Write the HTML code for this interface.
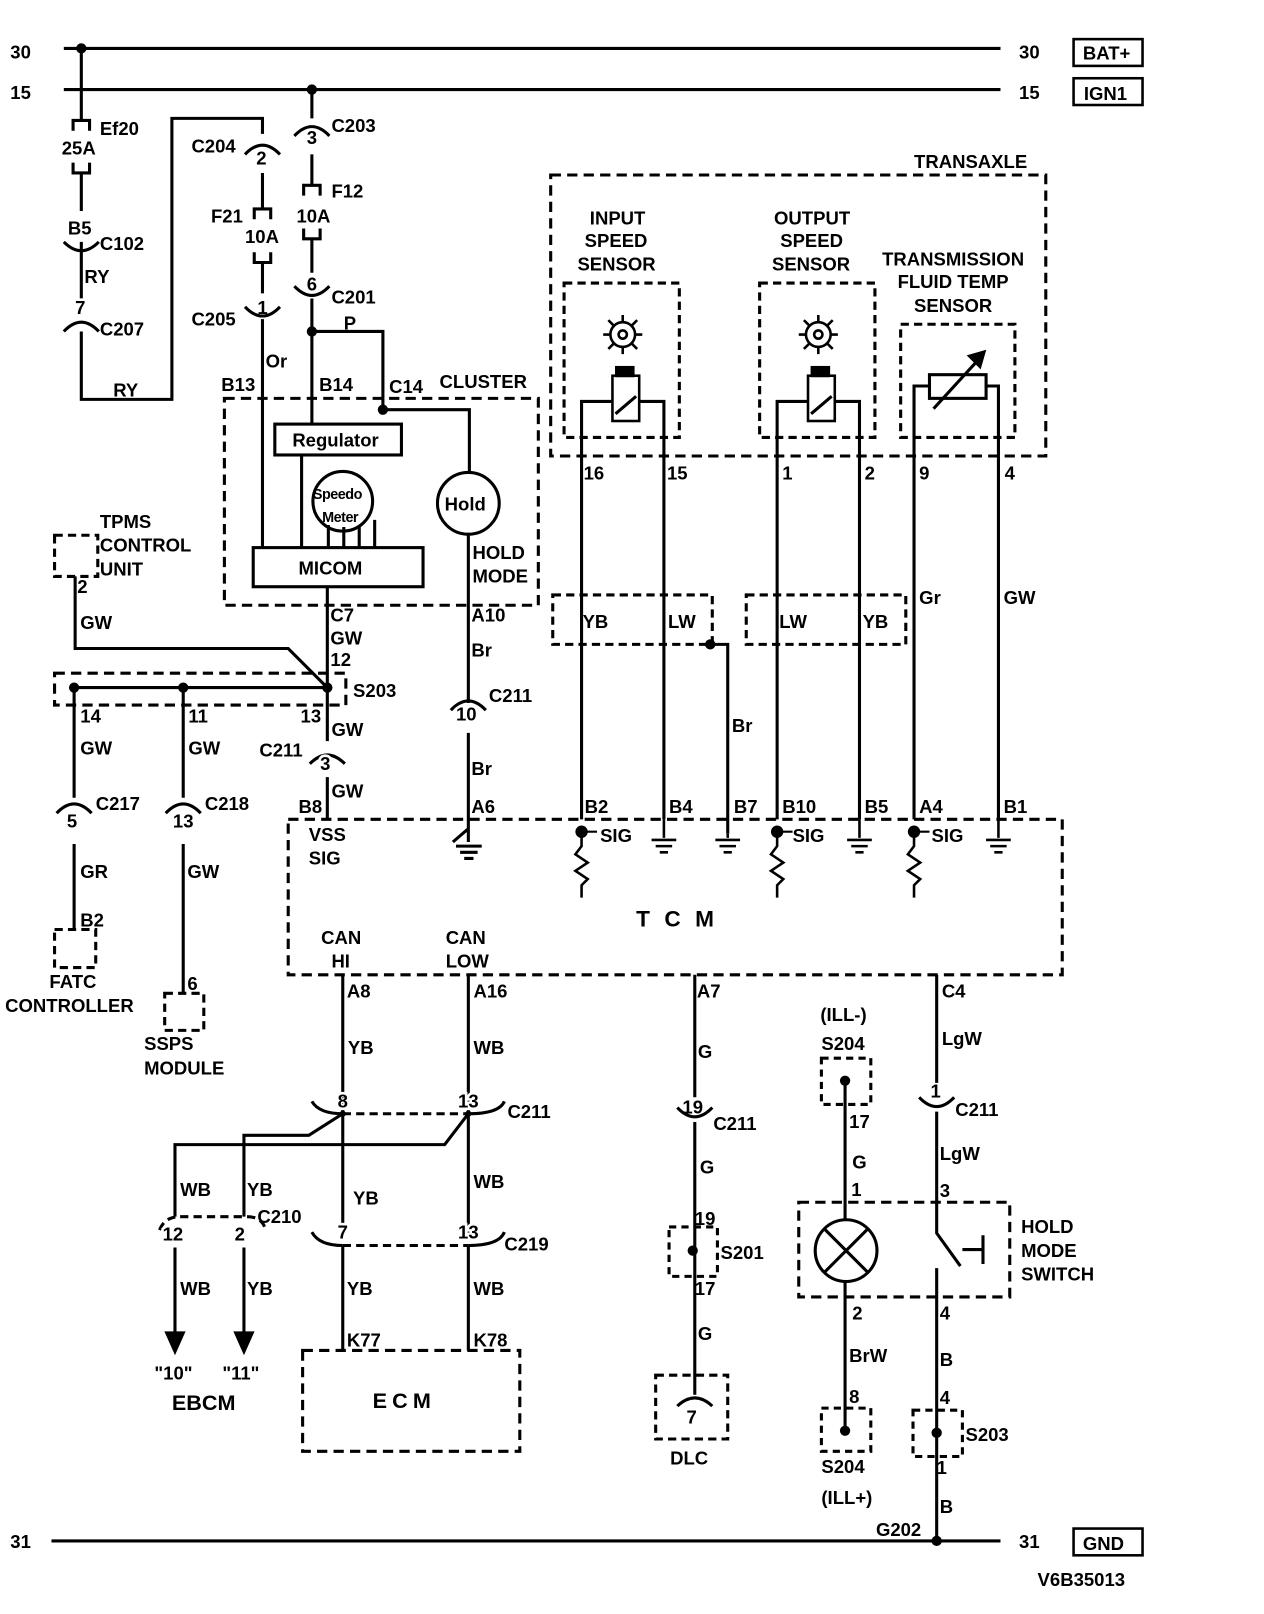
<!DOCTYPE html>
<html><head><meta charset="utf-8"><style>
html,body{margin:0;padding:0;background:#fff;}
svg{display:block;}
text{font-family:"Liberation Sans",sans-serif;font-weight:bold;font-size:18px;fill:#000;letter-spacing:0px;}
text.k{stroke:#fff;stroke-width:5px;paint-order:stroke;}
</style></head><body>
<svg width="1264" height="1614" viewBox="0 0 1228 1568" xmlns="http://www.w3.org/2000/svg">
<g fill="none" stroke="#000" stroke-width="3">
<path d="M62 47H972M62 87H972M50 1497H972"/>
<rect x="1043" y="38" width="67" height="26" stroke-width="2.5"/>
<rect x="1043" y="76" width="67" height="26" stroke-width="2.5"/>
<rect x="1043" y="1485" width="67" height="26" stroke-width="2.5"/>
<path d="M79 47V117M71 127V117H87V127M71 158V168H87V158M79 168V205M79 235V292M79 322V388H167V115H255V130"/>
<path d="M62 235Q79 252 96 235M62 322Q79 304 96 322"/>
<path d="M238 150Q255 132 272 150M255 168V203M247 213V203H263V213M247 245V255H263V245M255 255V285M238 298Q255 316 272 298M255 310V532"/>
<path d="M303 87V115M286 132Q303 114 320 132M303 150V180M295 190V180H311V190M295 222V232H311V222M303 232V265M286 278Q303 296 320 278M303 290V412"/>
<path d="M303 322H372V398H456V460"/>
<rect x="218" y="387" width="305" height="201" stroke-dasharray="10,6"/>
<rect x="267" y="412" width="123" height="30"/>
<rect x="246" y="532" width="165" height="38"/>
<circle cx="333" cy="487" r="29"/>
<circle cx="455" cy="489" r="30"/>
<path d="M293 442V532M319 510V532M334 512V532M349 510V532M364 505V532M455 519V683"/>
<rect x="53" y="520" width="42" height="40" stroke-dasharray="8,5"/>
<path d="M73 560V630H280L318 668"/>
<path d="M318 570V720"/>
<rect x="53" y="654" width="283" height="31" stroke-dasharray="10,6"/>
<path d="M72 668H318M72 668V775M178 668V775M301 742Q318 725 335 742M318 755V796"/>
<path d="M55 790Q72 772 89 790M72 820V903M161 790Q178 772 195 790M178 820V965"/>
<rect x="53" y="903" width="40" height="37" stroke-dasharray="8,5"/>
<rect x="160" y="965" width="38" height="36" stroke-dasharray="8,5"/>
<path d="M438 690Q455 672 472 690M455 712V805L440 818M455 805V818M443 822H468M447 828H464M451 834H460"/>
<rect x="535" y="170" width="481" height="273" stroke-dasharray="10,6"/>
<rect x="548" y="275" width="112" height="150" stroke-dasharray="8,5"/>
<rect x="738" y="275" width="112" height="150" stroke-dasharray="8,5"/>
<rect x="875" y="315" width="111" height="110" stroke-dasharray="8,5"/>
<rect x="595" y="365" width="26" height="44" stroke-width="2.5"/>
<rect x="785" y="365" width="26" height="44" stroke-width="2.5"/>
<path d="M598 402L618 385M788 402L808 385"/>
<path d="M565 796V390H595M621 390H645V796M755 796V390H785M811 390H835V796M888 796V375H903M958 375H970V796"/>
<rect x="903" y="364" width="55" height="23"/>
<path d="M907 397L950 350"/>
<path d="M942 346L956 342L952 356Z" fill="#000"/>
<rect x="537" y="578" width="155" height="48" stroke-dasharray="8,5"/>
<rect x="725" y="578" width="155" height="48" stroke-dasharray="8,5"/>
<path d="M690 626H707V810"/>
<g stroke-width="2.5">
<circle cx="605" cy="325" r="12"/><circle cx="605" cy="325" r="4"/>
<circle cx="795" cy="325" r="12"/><circle cx="795" cy="325" r="4"/>
<path d="M605 306V313M605 337V344M586 325H593M617 325H624M591 311L597 317M613 333L619 339M591 339L597 333M613 317L619 311"/>
<path d="M795 306V313M795 337V344M776 325H783M807 325H814M781 311L787 317M803 333L809 339M781 339L787 333M803 317L809 311"/>
</g>
<rect x="599" y="357" width="16" height="8" fill="#000"/>
<rect x="789" y="357" width="16" height="8" fill="#000"/>
<rect x="280" y="796" width="752" height="151" stroke-dasharray="10,6"/>
<path d="M565 808V822L559 830L571 838L559 846L571 854L565 860V872M755 808V822L749 830L761 838L749 846L761 854L755 860V872M888 808V822L882 830L894 838L882 846L894 854L888 860V872" stroke-width="2.5"/>
<path d="M565 808H580M755 808H770M888 808H903" stroke-width="2"/>
<path d="M645 796V814M633 816H657M637 822H653M641 828H649M707 810V814M695 816H719M699 822H715M703 828H711M835 796V814M823 816H847M827 822H843M831 828H839M970 796V814M958 816H982M962 822H978M966 828H974" stroke-width="2.5"/>
<path d="M333 947V1200M455 947V1200"/>
<path d="M303 1070Q310 1082 333 1082M455 1082Q485 1082 490 1070"/>
<path d="M333 1082H455" stroke-dasharray="8,5"/>
<path d="M333 1082L300 1103H237V1182M455 1082L432 1112H170V1182"/>
<path d="M155 1195Q160 1182 175 1182M175 1182H240Q255 1182 258 1195" stroke-dasharray="8,5"/>
<path d="M170 1212V1295M237 1212V1295"/>
<path d="M162 1295H178L170 1313ZM229 1295H245L237 1313Z" fill="#000"/>
<path d="M303 1197Q310 1210 333 1210M455 1210Q485 1210 490 1197"/>
<path d="M333 1210H455" stroke-dasharray="8,5"/>
<path d="M333 1210V1312M455 1210V1312"/>
<rect x="294" y="1312" width="211" height="98" stroke-dasharray="10,6"/>
<path d="M675 947V1066M658 1076Q675 1094 692 1076M675 1090V1355"/>
<rect x="650" y="1192" width="47" height="48" stroke-dasharray="7,5"/>
<rect x="637" y="1336" width="70" height="62" stroke-dasharray="8,5"/>
<path d="M658 1366Q675 1350 692 1366"/>
<rect x="798" y="1028" width="48" height="45" stroke-dasharray="7,5"/>
<rect x="798" y="1368" width="48" height="42" stroke-dasharray="7,5"/>
<path d="M821 1050V1185M821 1245V1390"/>
<circle cx="822" cy="1215" r="30"/>
<path d="M801 1194L843 1236M843 1194L801 1236"/>
<rect x="776" y="1168" width="205" height="92" stroke-dasharray="10,6"/>
<path d="M910 947V1052M893 1066Q910 1084 927 1066M910 1080V1198L933 1230M935 1214H955M955 1200V1228M910 1232V1497"/>
<rect x="887" y="1370" width="48" height="45" stroke-dasharray="7,5"/>
</g>
<g fill="#000">
<circle cx="79" cy="47" r="5"/><circle cx="303" cy="87" r="5"/><circle cx="303" cy="322" r="5"/><circle cx="372" cy="398" r="5"/>
<circle cx="72" cy="668" r="5"/><circle cx="178" cy="668" r="5"/><circle cx="318" cy="668" r="5"/>
<circle cx="690" cy="626" r="5"/><circle cx="565" cy="808" r="6"/><circle cx="755" cy="808" r="6"/><circle cx="888" cy="808" r="6"/>
<circle cx="673" cy="1215" r="5"/><circle cx="821" cy="1050" r="5"/><circle cx="821" cy="1390" r="5"/><circle cx="910" cy="1392" r="5"/><circle cx="910" cy="1497" r="5"/>
<circle cx="333" cy="1082" r="3"/><circle cx="455" cy="1082" r="3"/>
</g>
<text x="10" y="57">30</text><text x="10" y="96">15</text><text x="990" y="57">30</text><text x="990" y="96">15</text>
<text x="1052" y="58">BAT+</text><text x="1053" y="97">IGN1</text><text x="1052" y="1506">GND</text>
<text x="97" y="131">Ef20</text><text class="k" x="60" y="150">25A</text><text class="k" x="66" y="228">B5</text><text x="97" y="243">C102</text>
<text x="82" y="275">RY</text><text class="k" x="73" y="305">7</text><text x="97" y="326">C207</text><text x="110" y="385">RY</text>
<text x="186" y="148">C204</text><text class="k" x="249" y="160">2</text><text x="205" y="216">F21</text><text class="k" x="238" y="236">10A</text>
<text x="186" y="316">C205</text><text x="250" y="305">1</text><text x="258" y="357">Or</text><text x="215" y="380">B13</text>
<text x="322" y="128">C203</text><text class="k" x="298" y="140">3</text><text x="322" y="192">F12</text><text class="k" x="288" y="216">10A</text>
<text class="k" x="298" y="282">6</text><text x="322" y="295">C201</text><text x="334" y="320">P</text><text x="310" y="380">B14</text>
<text x="378" y="382">C14</text><text x="427" y="377">CLUSTER</text>
<text x="284" y="434">Regulator</text><text x="304" y="485" style="font-size:14px;letter-spacing:-0.5px">Speedo</text><text x="313" y="507" style="font-size:14px;letter-spacing:-0.5px">Meter</text>
<text x="432" y="496">Hold</text><text x="459" y="543">HOLD</text><text x="459" y="566">MODE</text><text x="290" y="558">MICOM</text>
<text x="97" y="513">TPMS</text><text x="97" y="536">CONTROL</text><text x="97" y="559">UNIT</text><text x="75" y="576">2</text><text x="78" y="611">GW</text>
<text x="321" y="604">C7</text><text x="321" y="626">GW</text><text x="321" y="647">12</text><text x="343" y="677">S203</text>
<text x="78" y="702">14</text><text x="183" y="702">11</text><text x="292" y="702">13</text><text x="322" y="715">GW</text>
<text x="78" y="733">GW</text><text x="183" y="733">GW</text><text x="252" y="735">C211</text><text class="k" x="311" y="748">3</text>
<text x="322" y="775">GW</text><text x="290" y="790">B8</text><text x="300" y="817">VSS</text><text x="300" y="840">SIG</text>
<text x="458" y="604">A10</text><text x="458" y="638">Br</text><text x="475" y="682">C211</text><text class="k" x="443" y="700">10</text>
<text x="458" y="753">Br</text><text x="458" y="790">A6</text>
<text x="93" y="787">C217</text><text class="k" x="65" y="804">5</text><text x="199" y="787">C218</text><text class="k" x="168" y="804">13</text>
<text x="78" y="853">GR</text><text x="182" y="853">GW</text><text x="78" y="900">B2</text><text x="48" y="960">FATC</text>
<text x="5" y="983">CONTROLLER</text><text x="182" y="962">6</text><text x="140" y="1020">SSPS</text><text x="140" y="1044">MODULE</text>
<text x="888" y="163">TRANSAXLE</text>
<text x="573" y="218">INPUT</text><text x="568" y="240">SPEED</text><text x="561" y="263">SENSOR</text>
<text x="752" y="218">OUTPUT</text><text x="758" y="240">SPEED</text><text x="750" y="263">SENSOR</text>
<text x="857" y="258">TRANSMISSION</text><text x="872" y="280">FLUID TEMP</text><text x="888" y="303">SENSOR</text>
<text x="567" y="466">16</text><text x="648" y="466">15</text><text x="760" y="466">1</text><text x="840" y="466">2</text><text x="893" y="466">9</text><text x="976" y="466">4</text>
<text x="566" y="610">YB</text><text x="649" y="610">LW</text><text x="757" y="610">LW</text><text x="838" y="610">YB</text>
<text x="893" y="587">Gr</text><text x="975" y="587">GW</text><text x="711" y="711">Br</text>
<text x="568" y="790">B2</text><text x="650" y="790">B4</text><text x="713" y="790">B7</text><text x="760" y="790">B10</text>
<text x="840" y="790">B5</text><text x="893" y="790">A4</text><text x="975" y="790">B1</text>
<text x="583" y="818">SIG</text><text x="770" y="818">SIG</text><text x="905" y="818">SIG</text>
<text x="618" y="900" style="font-size:22px;letter-spacing:14px">TCM</text>
<text x="312" y="917">CAN</text><text x="322" y="940">HI</text><text x="433" y="917">CAN</text><text x="433" y="940">LOW</text>
<text x="337" y="969">A8</text><text x="460" y="969">A16</text><text x="338" y="1024">YB</text><text x="460" y="1024">WB</text>
<text class="k" x="328" y="1076">8</text><text class="k" x="445" y="1076">13</text><text x="493" y="1086">C211</text>
<text x="175" y="1162">WB</text><text x="240" y="1162">YB</text><text x="343" y="1170">YB</text><text x="460" y="1154">WB</text>
<text x="250" y="1188">C210</text><text class="k" x="158" y="1205">12</text><text class="k" x="228" y="1205">2</text><text class="k" x="328" y="1203">7</text><text class="k" x="445" y="1203">13</text>
<text x="490" y="1215">C219</text><text x="175" y="1258">WB</text><text x="240" y="1258">YB</text><text x="337" y="1258">YB</text><text x="460" y="1258">WB</text>
<text x="337" y="1308">K77</text><text x="460" y="1308">K78</text><text x="150" y="1340">"10"</text><text x="216" y="1340">"11"</text>
<text x="167" y="1370" style="font-size:21px">EBCM</text><text x="362" y="1368" style="font-size:21px;letter-spacing:5px">ECM</text>
<text x="677" y="969">A7</text><text x="678" y="1028">G</text><text x="663" y="1082">19</text><text x="693" y="1098">C211</text>
<text x="680" y="1140">G</text><text x="675" y="1190">19</text><text x="700" y="1223">S201</text><text x="675" y="1258">17</text>
<text x="678" y="1302">G</text><text class="k" x="667" y="1383">7</text><text x="651" y="1423">DLC</text>
<text x="797" y="992">(ILL-)</text><text x="798" y="1020">S204</text><text x="825" y="1096">17</text><text x="828" y="1135">G</text>
<text x="827" y="1162">1</text><text x="828" y="1282">2</text><text x="825" y="1323">BrW</text><text x="825" y="1363">8</text>
<text x="798" y="1431">S204</text><text x="798" y="1461">(ILL+)</text>
<text x="915" y="969">C4</text><text x="915" y="1015">LgW</text><text x="904" y="1066">1</text><text x="928" y="1084">C211</text>
<text x="913" y="1127">LgW</text><text x="913" y="1163">3</text><text x="992" y="1198">HOLD</text><text x="992" y="1221">MODE</text><text x="992" y="1244">SWITCH</text>
<text x="913" y="1282">4</text><text x="913" y="1327">B</text><text x="913" y="1364">4</text><text x="938" y="1400">S203</text>
<text x="910" y="1432">1</text><text x="913" y="1470">B</text><text x="851" y="1492">G202</text>
<text x="10" y="1504">31</text><text x="990" y="1504">31</text><text x="1008" y="1541">V6B35013</text>
</svg>
</body></html>
